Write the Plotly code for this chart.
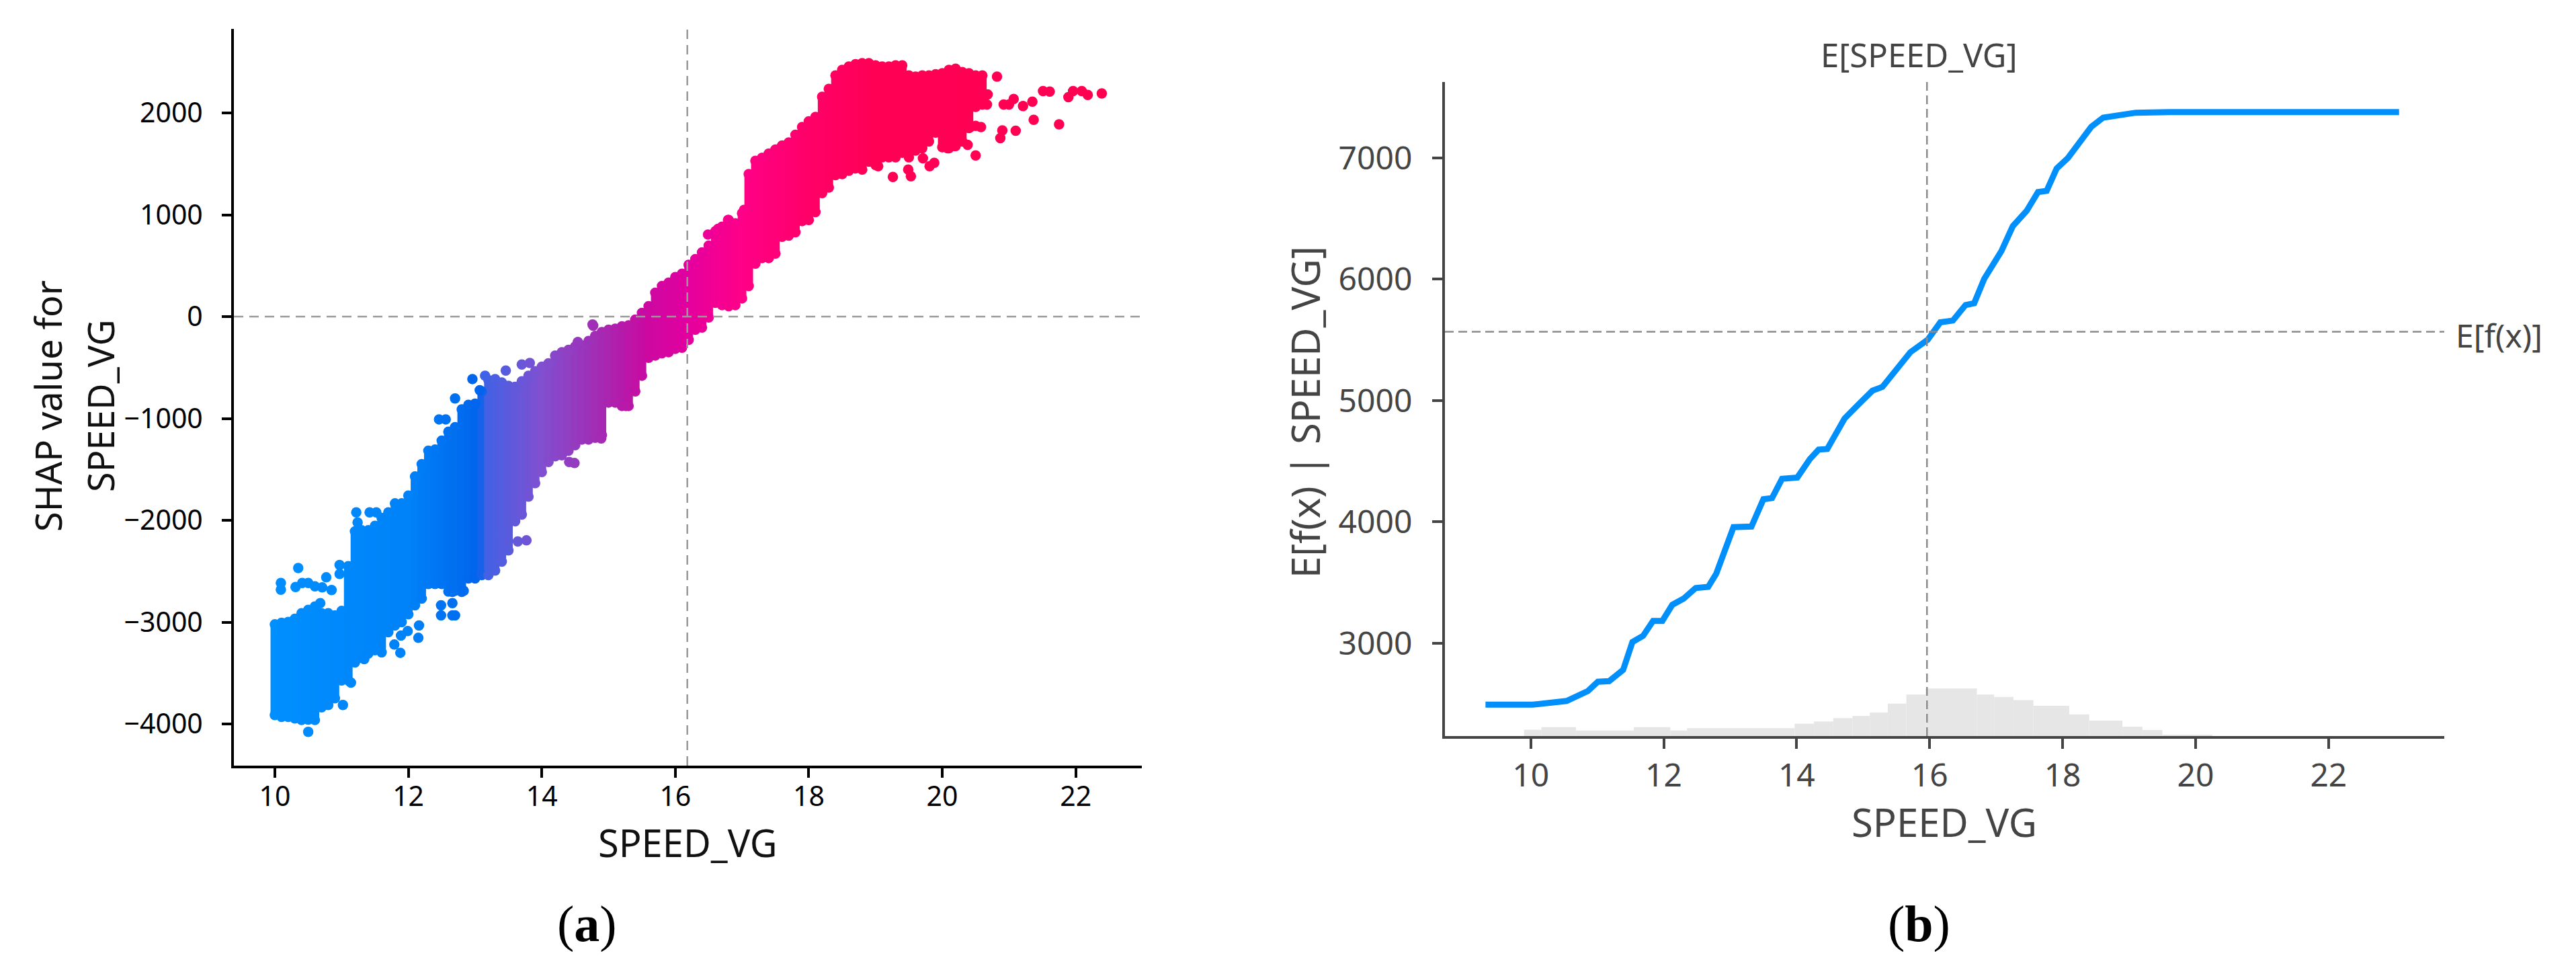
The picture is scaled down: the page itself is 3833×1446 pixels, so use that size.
import plotly.graph_objects as go

W, H = 3833, 1446

# Panel (a): dependence-plot cloud
cloud_x = [10.0,10.1,10.2,10.3,10.4,10.5,10.6,10.7,10.8,10.9,
           11.0,11.1,11.2,11.3,11.4,11.5,11.6,11.7,11.8,11.9,
           12.0,12.1,12.2,12.3,12.4,12.5,12.6,12.7,12.8,12.9,
           13.0,13.1,13.2,13.3,13.4,13.5,13.6,13.7,13.8,13.9,
           14.0,14.1,14.2,14.3,14.4,14.5,14.6,14.7,14.8,14.9,
           15.0,15.1,15.2,15.3,15.4,15.5,15.6,15.7,15.8,15.9,
           16.0,16.1,16.2,16.3,16.4,16.5,16.6,16.7,16.8,16.9,
           17.0,17.1,17.2,17.3,17.4,17.5,17.6,17.7,17.8,17.9,
           18.0,18.1,18.2,18.3,18.4,18.5,18.6,18.7,18.8,18.9,
           19.0,19.1,19.2,19.3,19.4,19.5,19.6,19.7,19.8,19.9,
           20.0,20.1,20.2,20.3,20.4,20.5,20.6]
cloud_top = [-3022,-3007,-2998,-2967,-2912,-2879,-2846,-2912,-2912,-2934,
             -2890,-2450,-2109,-2098,-2098,-2054,-1977,-1922,-1834,-1834,
             -1757,-1570,-1449,-1317,-1306,-1218,-1130,-1086,-910,-866,
             -855,-734,-624,-613,-646,-679,-690,-635,-580,-536,
             -492,-459,-382,-349,-327,-294,-283,-239,-190,-151,
             -129,-118,-96,-85,-30,36,102,234,300,333,
             388,421,509,564,630,696,839,883,949,916,
             1015,1400,1530,1560,1600,1640,1680,1710,1785,1862,
             1917,1961,2159,2236,2368,2423,2456,2478,2489,2489,
             2467,2456,2456,2467,2467,2368,2357,2368,2368,2379,
             2390,2423,2434,2401,2390,2368,2368]
cloud_bottom = [-3913,-3931,-3931,-3946,-3961,-3957,-3961,-3836,-3814,-3748,
                -3572,-3572,-3396,-3352,-3308,-3275,-3297,-3099,-3033,-3000,
                -2923,-2835,-2769,-2626,-2626,-2626,-2700,-2692,-2703,-2571,
                -2571,-2538,-2538,-2494,-2406,-2296,-2010,-1944,-1768,-1636,
                -1526,-1427,-1372,-1361,-1317,-1262,-1207,-1207,-1190,-1163,
                -844,-844,-877,-877,-734,-580,-404,-382,-360,-349,
                -316,-305,-228,-129,-107,-8,135,113,102,113,
                179,300,520,575,575,619,784,795,828,938,
                949,1026,1213,1268,1389,1400,1433,1455,1444,1521,
                1488,1565,1565,1565,1609,1565,1631,1653,1719,1807,
                1664,1653,1675,1719,1851,2060,2082]

# Separate dots standing off the main cloud
stray_x = [10.50,11.02,11.14,11.34,10.97,10.97,10.35,10.09,10.09,10.31,10.50,10.60,10.77,10.85,10.68,
           10.41,10.71,11.22,11.24,11.42,11.52,11.99,12.16,12.15,11.89,11.79,11.88,12.49,12.49,12.66,
           12.70,12.66,12.66,12.70,12.46,12.56,12.96,13.07,13.15,13.46,13.70,13.82,14.54,14.77,14.41,
           14.49,13.77,13.64,13.40,13.45,12.83,14.76,14.54,14.89,15.26,16.79,16.49,16.64,17.03,
           20.82,20.68,20.67,20.58,20.50,20.42,20.50,20.38,20.08,20.18,20.90,20.87,21.10,21.37,21.75,
           20.92,21.00,21.07,21.21,21.35,21.51,21.61,21.89,21.96,22.09,22.18,22.39,19.26,19.53,19.49,
           19.81,19.88,19.04,19.71]
stray_y = [-4078,-3814,-3594,-3363,-2439,-2527,-2468,-2615,-2681,-2655,-2615,-2648,-2560,-2685,-2813,
           -2615,-2659,-1922,-2021,-1922,-1922,-3088,-3033,-3154,-3132,-3220,-3301,-2835,-2934,-2934,
           -2934,-2703,-2813,-804,-1009,-1009,-613,-723,-580,-529,-470,-455,-250,-89,-1427,
           -1438,-2197,-2208,-2142,-2296,-2692,-78,-250,-1196,-877,949,806,861,1048,
           2357,2181,2082,1862,1873,1862,1583,1686,1653,1675,1829,1752,1825,1932,1888,
           2082,2082,2137,2067,2111,2214,2210,2155,2214,2214,2177,2192,1371,1378,1444,
           1477,1510,1477,1554]

colour_x = [10.0, 12.0, 13.08, 13.14, 14.0, 15.0, 15.6, 16.2, 17.0, 18.0, 19.0, 22.4]
colour_v = ["#008fff", "#0082f8", "#0064ec", "#3f62e6", "#8050d0", "#aa25b0", "#cc08a0",
            "#e3009f", "#ff0088", "#ff0068", "#ff0055", "#ff0051"]

# Panel (b): partial-dependence line
pd_x = [9.32,10.03,10.54,10.86,11.01,11.18,11.39,11.53,11.69,11.84,11.98,12.13,12.30,12.48,12.67,12.79,
        13.05,13.32,13.50,13.63,13.78,14.01,14.20,14.33,14.46,14.72,14.95,15.14,15.29,15.71,15.97,16.16,
        16.35,16.54,16.67,16.82,17.08,17.25,17.46,17.63,17.76,17.91,18.08,18.43,18.61,18.84,19.10,19.61,23.06]
pd_y = [2494,2494,2524,2606,2683,2688,2780,3010,3061,3184,3184,3317,3368,3455,3465,3573,
        3957,3962,4187,4197,4355,4366,4519,4596,4601,4852,4980,5082,5113,5399,5501,5645,
        5660,5788,5803,6003,6233,6437,6565,6719,6729,6913,7000,7256,7332,7348,7373,7378,7378]

hist_edges = [9.9,10.16,10.68,11.55,12.1,12.35,13.97,14.26,14.55,14.84,15.1,15.37,15.65,15.94,16.71,
              16.97,17.26,17.56,18.1,18.4,18.9,19.2,19.5,20.25]
hist_heights = [52,74,46,74,46,65,102,120,148,166,194,268,342,392,342,323,296,249,178,128,77,50,10]

x_ticks = [10, 12, 14, 16, 18, 20, 22]
y_ticks_a = [-4000, -3000, -2000, -1000, 0, 1000, 2000]
y_ticks_b = [3000, 4000, 5000, 6000, 7000]

xrange_a, yrange_a = [9.386, 22.99], [-4409, 2825]
xrange_b, yrange_b = [8.71, 23.74], [2235, 7626]
mean_a_x, mean_a_y = 16.18, 0
mean_b_x, mean_b_y = 15.96, 5568

FONT = "Noto Sans"
cmin, cmax = colour_x[0], colour_x[-1]
cscale = [[(c - cmin) / (cmax - cmin), v] for c, v in zip(colour_x, colour_v)]
mk = dict(colorscale=cscale, cmin=cmin, cmax=cmax, showscale=False)

fig = go.Figure()
fig.add_trace(go.Bar(x=cloud_x, base=cloud_bottom,
                     y=[t - b for t, b in zip(cloud_top, cloud_bottom)],
                     width=[0.13] * len(cloud_x),
                     marker=dict(color=cloud_x, line_width=0, **mk),
                     xaxis="x", yaxis="y", showlegend=False))
fig.add_trace(go.Scatter(x=cloud_x + cloud_x + stray_x, y=cloud_top + cloud_bottom + stray_y,
                         mode="markers",
                         marker=dict(size=15.5, color=cloud_x + cloud_x + stray_x, line_width=0, **mk),
                         xaxis="x", yaxis="y", showlegend=False))

centres = [(a + b) / 2 for a, b in zip(hist_edges[:-1], hist_edges[1:])]
widths = [b - a for a, b in zip(hist_edges[:-1], hist_edges[1:])]
fig.add_trace(go.Bar(x=centres, y=hist_heights, base=yrange_b[0], width=widths,
                     marker=dict(color="#e6e6e6", line_width=0),
                     xaxis="x2", yaxis="y2", showlegend=False))
fig.add_trace(go.Scatter(x=pd_x, y=pd_y, mode="lines",
                         line=dict(color="#008ffb", width=9),
                         xaxis="x2", yaxis="y2", showlegend=False))


def axis(dom, rng, ticks, size, col, tlen, standoff, anchor, lw):
    return dict(domain=dom, range=rng, tickvals=ticks, ticks="outside", ticklen=tlen, tickwidth=3.5,
                tickcolor=col, showline=True, linecolor=col, linewidth=lw, showgrid=False,
                zeroline=False, anchor=anchor, ticklabelstandoff=standoff,
                tickfont=dict(family=FONT, size=size, color=col))


dash_a = dict(color="#999999", width=2.5, dash="14px,9px")
dash_b = dict(color="#8c8c8c", width=2.5, dash="13px,7px")
shapes = [
    dict(type="line", xref="x", yref="y", x0=xrange_a[0], x1=xrange_a[1], y0=mean_a_y, y1=mean_a_y, line=dash_a),
    dict(type="line", xref="x", yref="y", x0=mean_a_x, x1=mean_a_x, y0=yrange_a[0], y1=yrange_a[1], line=dash_a),
    dict(type="line", xref="x2", yref="y2", x0=xrange_b[0], x1=xrange_b[1], y0=mean_b_y, y1=mean_b_y, line=dash_b),
    dict(type="line", xref="x2", yref="y2", x0=mean_b_x, x1=mean_b_x, y0=yrange_b[0], y1=yrange_b[1], line=dash_b),
]


def label(text, px, py, size, col="#111111", angle=0, family=FONT):
    return dict(text=text, x=px / W, y=1 - py / H, xref="paper", yref="paper", showarrow=False,
                xanchor="center", yanchor="middle", textangle=angle,
                font=dict(family=family, size=size, color=col))


annotations = [
    label("SPEED_VG", 1023, 1253, 56),
    label("SHAP value for", 71, 604, 54, angle=-90),
    label("SPEED_VG", 149, 604, 54, angle=-90),
    label("(<b>a</b>)", 873, 1374, 76, col="#000000", family="Liberation Serif"),
    label("SPEED_VG", 2893, 1222, 58, col="#444444"),
    label("E[f(x) | SPEED_VG]", 1941, 613, 58, col="#444444", angle=-90),
    label("E[SPEED_VG]", 2855, 81, 49, col="#444444"),
    label("E[f(x)]", 3718, 498, 48, col="#444444"),
    label("(<b>b</b>)", 2855, 1374, 76, col="#000000", family="Liberation Serif"),
]

fig.update_layout(
    width=W, height=H, margin=dict(l=0, r=0, t=0, b=0), barmode="overlay",
    paper_bgcolor="white", plot_bgcolor="rgba(0,0,0,0)", showlegend=False,
    xaxis=axis([348 / W, 1699 / W], xrange_a, x_ticks, 41, "#000000", 14, -7, "y", 4),
    yaxis=axis([1 - 1139 / H, 1 - 43 / H], yrange_a, y_ticks_a, 41, "#000000", 14, 20, "x", 4),
    xaxis2=axis([2150 / W, 3637 / W], xrange_b, x_ticks, 48, "#444444", 15, -2, "y2", 4),
    yaxis2=axis([1 - 1095 / H, 1 - 122 / H], yrange_b, y_ticks_b, 48, "#444444", 15, 20, "x2", 4),
    shapes=shapes, annotations=annotations,
)
fig.write_html("out.html", post_script="document.body.style.margin='0';",
               config={"displayModeBar": False})
